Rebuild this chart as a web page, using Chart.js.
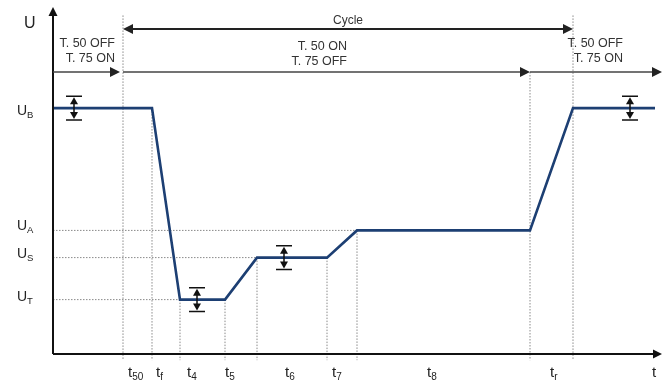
<!DOCTYPE html>
<html>
<head>
<meta charset="utf-8">
<script src="https://cdn.jsdelivr.net/npm/chart.js@4.4.0/dist/chart.umd.min.js"></script>
<style>
  html, body { margin: 0; padding: 0; background: #fff; }
  canvas { display: block; }
</style>
</head>
<body>
<canvas id="cycleChart" width="662" height="383"></canvas>
<script>
// voltage levels (arbitrary units)
const U_B = 9.95, U_A = 5, U_S = 3.9, U_T = 2.2;

// waveform corners
const waveT = [0, 9.9, 12.7, 17.2, 20.4, 27.4, 30.4, 47.7, 52.0, 60.2];
const waveU = [U_B, U_B, U_T, U_T, U_S, U_S, U_A, U_A, U_B, U_B];

// rows of the annotation arrows above the curve
const CYCLE_U = 13.15, ROW_U = 11.41, GUIDE_TOP = 13.7;

// dotted guide lines
const guideT = [7, 9.9, 12.7, 17.2, 20.4, 27.4, 30.4, 47.7, 52.0];
const guideTop = [GUIDE_TOP, U_B, U_T, U_T, U_S, U_S, U_A, ROW_U, GUIDE_TOP];
const hGuideU = [U_A, U_S, U_T];
const hGuideEnd = [30.4, 20.4, 12.7];

// labels
const levelNames = ['B', 'A', 'S', 'T'];
const levelU = [U_B, U_A, U_S, U_T];
const timeNames = ['50', 'f', '4', '5', '6', '7', '8', 'r', ''];
const timeLabelT = [7.5, 10.3, 13.4, 17.2, 23.2, 27.9, 37.4, 49.7, 59.9];

// switching phases (T. 50 / T. 75)
const phaseT = [0, 7, 47.7, 60.9];
const phaseText = [['T. 50 OFF', 'T. 75 ON'], ['T. 50 ON', 'T. 75 OFF'], ['T. 50 OFF', 'T. 75 ON']];
const cycleT = [7, 52.0];

// tolerance markers
const markT = [2.1, 14.4, 23.1, 57.7];
const markU = [U_B, U_T, U_S, U_B];
const markTol = 0.48;

const FONT = '"Liberation Sans", Arial, sans-serif';

const pts = (xs, ys) => xs.map((x, i) => ({ x: x, y: ys[i] }));

const datasets = [{
  data: pts(waveT, waveU),
  borderColor: '#1d3f73',
  borderWidth: 2.6,
  pointRadius: 0,
  showLine: true,
  tension: 0
}];
guideT.forEach((t, i) => {
  datasets.push({
    data: [{ x: t, y: guideTop[i] }, { x: t, y: -0.25 }],
    borderColor: '#8a8a8a', borderWidth: 1, borderDash: [1.5, 1.5],
    pointRadius: 0, showLine: true
  });
});
hGuideU.forEach((u, i) => {
  datasets.push({
    data: [{ x: 0, y: u }, { x: hGuideEnd[i], y: u }],
    borderColor: '#8a8a8a', borderWidth: 1, borderDash: [1.5, 1.5],
    pointRadius: 0, showLine: true
  });
});

function head(ctx, x, y, dir, len, half) {
  // dir: 'r', 'l', 'u', 'd' ; tip at (x,y)
  ctx.beginPath();
  ctx.moveTo(x, y);
  if (dir === 'r') { ctx.lineTo(x - len, y - half); ctx.lineTo(x - len, y + half); }
  if (dir === 'l') { ctx.lineTo(x + len, y - half); ctx.lineTo(x + len, y + half); }
  if (dir === 'u') { ctx.lineTo(x - half, y + len); ctx.lineTo(x + half, y + len); }
  if (dir === 'd') { ctx.lineTo(x - half, y - len); ctx.lineTo(x + half, y - len); }
  ctx.closePath();
  ctx.fill();
}

function subText(ctx, x, y, main, sub, size, subSize) {
  ctx.font = size + 'px ' + FONT;
  const w1 = ctx.measureText(main).width;
  ctx.textAlign = 'left';
  ctx.textBaseline = 'alphabetic';
  ctx.fillText(main, x, y);
  ctx.font = subSize + 'px ' + FONT;
  ctx.fillText(sub, x + w1, y + 3);
}

const decor = {
  id: 'decor',
  afterDatasetsDraw(chart) {
    const ctx = chart.ctx;
    const sx = chart.scales.x, sy = chart.scales.y;
    const X = v => sx.getPixelForValue(v), Y = v => sy.getPixelForValue(v);
    const x0 = X(0), y0 = Y(0), xEnd = chart.chartArea.right;
    ctx.save();

    // axes
    ctx.strokeStyle = '#111'; ctx.fillStyle = '#111'; ctx.lineWidth = 2;
    ctx.beginPath();
    ctx.moveTo(x0, y0); ctx.lineTo(x0, 14);
    ctx.moveTo(x0, y0); ctx.lineTo(xEnd - 6, y0);
    ctx.stroke();
    head(ctx, x0, 7, 'u', 9, 4.5);
    head(ctx, xEnd, y0, 'r', 9, 4.5);

    // cycle arrow
    const cy = Y(CYCLE_U);
    ctx.strokeStyle = '#222'; ctx.fillStyle = '#222'; ctx.lineWidth = 1.8;
    ctx.beginPath(); ctx.moveTo(X(cycleT[0]) + 6, cy); ctx.lineTo(X(cycleT[1]) - 6, cy); ctx.stroke();
    head(ctx, X(cycleT[0]), cy, 'l', 10, 5);
    head(ctx, X(cycleT[1]), cy, 'r', 10, 5);
    ctx.font = '12px ' + FONT; ctx.textAlign = 'center'; ctx.textBaseline = 'alphabetic';
    ctx.fillStyle = '#333';
    ctx.fillText('Cycle', (X(cycleT[0]) + X(cycleT[1])) / 2, cy - 5);

    // switching row
    const ry = Y(ROW_U);
    ctx.strokeStyle = '#444'; ctx.fillStyle = '#222'; ctx.lineWidth = 1.3;
    for (let i = 0; i < phaseT.length - 1; i++) {
      const a = X(phaseT[i]), b = X(phaseT[i + 1]);
      ctx.beginPath(); ctx.moveTo(a, ry); ctx.lineTo(b - 5, ry); ctx.stroke();
      head(ctx, i === 0 ? b - 3 : b, ry, 'r', 10, 5);
    }
    const textRight = [115, 347, 623];
    const textTop = [44, 47, 44];
    ctx.font = '12.5px ' + FONT; ctx.textAlign = 'right'; ctx.textBaseline = 'middle';
    ctx.fillStyle = '#333';
    phaseText.forEach((lines, i) => {
      ctx.fillText(lines[0], textRight[i], textTop[i]);
      ctx.fillText(lines[1], textRight[i], textTop[i] + 15);
    });

    // tolerance markers
    ctx.strokeStyle = '#111'; ctx.fillStyle = '#111'; ctx.lineWidth = 1.5;
    markT.forEach((t, i) => {
      const x = X(t), yt = Y(markU[i] + markTol), yb = Y(markU[i] - markTol);
      ctx.beginPath();
      ctx.moveTo(x - 8, yt); ctx.lineTo(x + 8, yt);
      ctx.moveTo(x - 8, yb); ctx.lineTo(x + 8, yb);
      ctx.moveTo(x, yt + 5); ctx.lineTo(x, yb - 5);
      ctx.stroke();
      head(ctx, x, yt + 1, 'u', 7, 4);
      head(ctx, x, yb - 1, 'd', 7, 4);
    });

    // level labels
    ctx.fillStyle = '#222';
    ctx.font = '16px ' + FONT; ctx.textAlign = 'left'; ctx.textBaseline = 'alphabetic';
    ctx.fillText('U', 24, 28);
    const levelShift = [7, 0, 0, 1];
    levelNames.forEach((n, i) => {
      subText(ctx, 17, Y(levelU[i]) + levelShift[i], 'U', n, 14, 9.5);
    });

    // time labels
    timeNames.forEach((n, i) => {
      subText(ctx, X(timeLabelT[i]), 377, 't', n, 15, 10);
    });

    ctx.restore();
  }
};

new Chart(document.getElementById('cycleChart').getContext('2d'), {
  type: 'scatter',
  data: { datasets: datasets },
  options: {
    responsive: false,
    animation: false,
    layout: { padding: { left: 53, right: 0, top: 8, bottom: 21.6 } },
    plugins: { legend: { display: false }, tooltip: { enabled: false } },
    scales: {
      x: { type: 'linear', min: 0, max: 60.9, display: false },
      y: { type: 'linear', min: -0.3, max: 14, display: false }
    }
  },
  plugins: [decor]
});
</script>
</body>
</html>
